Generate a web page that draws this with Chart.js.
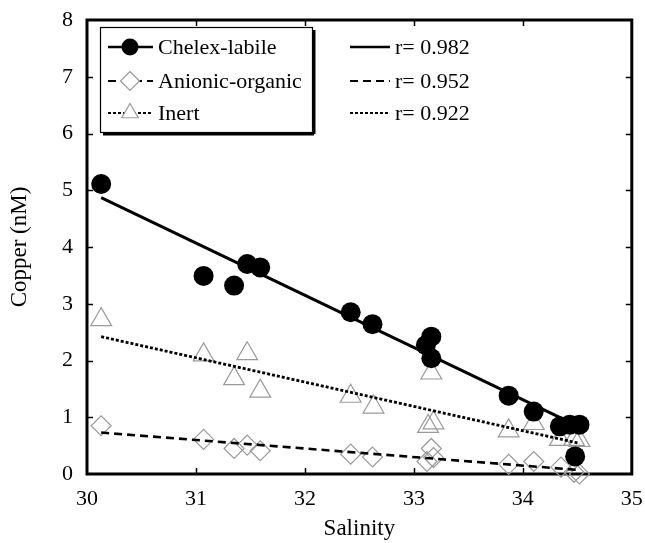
<!DOCTYPE html>
<html>
<head>
<meta charset="utf-8">
<script src="https://cdn.jsdelivr.net/npm/chart.js@4/dist/chart.umd.min.js"></script>
<style>
html,body{margin:0;padding:0;background:#fff;}
#wrap{width:645px;height:543px;}
</style>
</head>
<body>
<div id="wrap"><canvas id="c" width="645" height="543"></canvas></div>
<script>
// ---- data ----
const chelexX = [30.13, 31.07, 31.35, 31.47, 31.59, 32.42, 32.62, 33.11, 33.16, 33.16, 33.87, 34.10, 34.34, 34.43, 34.52, 34.48];
const chelexY = [5.11, 3.49, 3.32, 3.70, 3.64, 2.85, 2.64, 2.27, 2.42, 2.04, 1.38, 1.10, 0.84, 0.87, 0.87, 0.31];
const anionicX = [30.13, 31.07, 31.35, 31.47, 31.59, 32.42, 32.62, 33.16, 33.18, 33.12, 33.87, 34.10, 34.35, 34.47, 34.52];
const anionicY = [0.85, 0.61, 0.45, 0.51, 0.41, 0.35, 0.30, 0.45, 0.29, 0.22, 0.17, 0.22, 0.12, 0.03, 0.00];
const inertX = [30.13, 31.07, 31.47, 31.35, 31.59, 32.42, 32.63, 33.16, 33.13, 33.18, 33.87, 34.10, 34.34, 34.47, 34.52];
const inertY = [2.72, 2.10, 2.12, 1.68, 1.46, 1.37, 1.18, 1.78, 0.84, 0.90, 0.76, 0.89, 0.61, 0.61, 0.59];
const fitX = [30.13, 34.52];
const chelexFitY = [4.87, 0.83];
const anionicFitY = [0.73, 0.07];
const inertFitY = [2.42, 0.54];
const seriesNames = ['Chelex-labile', 'Anionic-organic', 'Inert'];
const rLabels = ['r= 0.982', 'r= 0.952', 'r= 0.922'];
const xTicks = [30, 31, 32, 33, 34, 35];
const yTicks = [0, 1, 2, 3, 4, 5, 6, 7, 8];
const xTitle = 'Salinity';
const yTitle = 'Copper (nM)';

const pts = (xs, ys) => xs.map((x, i) => ({x: x, y: ys[i]}));
const FONT = 'Liberation Serif';
const GREY = '#9a9a9a';
const styles = [
  {dash: [], width: 3},
  {dash: [8, 5], width: 2.6},
  {dash: [3, 2], width: 2.8}
];

function drawMarker(ctx, kind, x, y, r) {
  ctx.save();
  ctx.setLineDash([]);
  if (kind === 0) {
    ctx.fillStyle = '#000';
    ctx.beginPath(); ctx.arc(x, y, r, 0, Math.PI * 2); ctx.fill();
  } else if (kind === 1) {
    ctx.strokeStyle = GREY; ctx.lineWidth = 1.2; ctx.fillStyle = '#fff';
    ctx.beginPath();
    ctx.moveTo(x, y - r); ctx.lineTo(x + r, y); ctx.lineTo(x, y + r); ctx.lineTo(x - r, y); ctx.closePath();
    ctx.fill(); ctx.stroke();
  } else {
    ctx.strokeStyle = GREY; ctx.lineWidth = 1.2; ctx.fillStyle = '#fff';
    ctx.beginPath();
    ctx.moveTo(x, y - r); ctx.lineTo(x + r * 0.87, y + r * 0.5); ctx.lineTo(x - r * 0.87, y + r * 0.5); ctx.closePath();
    ctx.fill(); ctx.stroke();
  }
  ctx.restore();
}

const framePlugin = {
  id: 'frame',
  beforeDatasetsDraw(chart) {
    const {ctx, chartArea: a, scales} = chart;
    ctx.save();
    ctx.strokeStyle = '#000';
    ctx.lineWidth = 1.5;
    const tl = 6;
    xTicks.forEach(v => {
      if (v === xTicks[0] || v === xTicks[xTicks.length - 1]) return;
      const px = Math.round(scales.x.getPixelForValue(v)) + 0.5;
      ctx.beginPath(); ctx.moveTo(px, a.bottom); ctx.lineTo(px, a.bottom - tl); ctx.stroke();
      ctx.beginPath(); ctx.moveTo(px, a.top); ctx.lineTo(px, a.top + tl); ctx.stroke();
    });
    yTicks.forEach(v => {
      if (v === yTicks[0] || v === yTicks[yTicks.length - 1]) return;
      const py = Math.round(scales.y.getPixelForValue(v)) + 0.5;
      ctx.beginPath(); ctx.moveTo(a.left, py); ctx.lineTo(a.left + tl, py); ctx.stroke();
      ctx.beginPath(); ctx.moveTo(a.right, py); ctx.lineTo(a.right - tl, py); ctx.stroke();
    });
    ctx.lineWidth = 3;
    ctx.strokeRect(a.left, a.top, a.right - a.left, a.bottom - a.top);
    ctx.restore();
  },
  afterDraw(chart) {
    const {ctx, chartArea: a} = chart;
    ctx.save();
    // legend box
    const bx = a.left + 13, by = a.top + 7, bw = 212, bh = 105;
    ctx.fillStyle = '#fff';
    ctx.fillRect(bx, by, bw, bh);
    ctx.strokeStyle = '#000';
    ctx.lineWidth = 1.2;
    ctx.strokeRect(bx + 0.5, by + 0.5, bw, bh);
    ctx.fillStyle = '#000';
    ctx.fillRect(bx + 3, by + bh + 1, bw - 1, 2.5);
    ctx.fillRect(bx + bw + 1, by + 3, 2.5, bh - 1);
    const rows = [by + 20, by + 54, by + 86];
    ctx.font = '22px "' + FONT + '"';
    ctx.textBaseline = 'middle';
    ctx.textAlign = 'left';
    for (let i = 0; i < 3; i++) {
      const y = rows[i];
      ctx.strokeStyle = '#000';
      ctx.lineWidth = styles[i].width - 0.6;
      ctx.setLineDash(styles[i].dash);
      ctx.beginPath(); ctx.moveTo(bx + 8, y); ctx.lineTo(bx + 53, y); ctx.stroke();
      drawMarker(ctx, i, bx + 30, y, i === 0 ? 8.5 : 9.5);
      ctx.setLineDash([]);
      ctx.fillStyle = '#000';
      ctx.fillText(seriesNames[i], bx + 58, y + 1);
      // right column
      ctx.setLineDash(styles[i].dash);
      ctx.lineWidth = styles[i].width - 0.6;
      ctx.beginPath(); ctx.moveTo(bx + 250, y); ctx.lineTo(bx + 290, y); ctx.stroke();
      ctx.setLineDash([]);
      ctx.fillText(rLabels[i], bx + 295, y + 1);
    }
    ctx.restore();
  }
};

const lineDs = (ys, i) => ({
  type: 'scatter',
  data: pts(fitX, ys),
  showLine: true,
  borderColor: '#000',
  borderWidth: styles[i].width,
  borderDash: styles[i].dash,
  pointRadius: 0,
  fill: false,
  order: 0,
  clip: false
});

new Chart(document.getElementById('c'), {
  type: 'scatter',
  data: {
    datasets: [
      {data: pts(anionicX, anionicY), pointStyle: 'rectRot', pointRadius: 10, backgroundColor: 'rgba(255,255,255,0)', borderColor: GREY, borderWidth: 1.2, order: 3, clip: false},
      {data: pts(inertX, inertY), pointStyle: 'triangle', pointRadius: 12, backgroundColor: 'rgba(255,255,255,0)', borderColor: GREY, borderWidth: 1.2, order: 2, clip: false},
      lineDs(anionicFitY, 1),
      lineDs(inertFitY, 2),
      lineDs(chelexFitY, 0),
      {data: pts(chelexX, chelexY), pointStyle: 'circle', pointRadius: 10, backgroundColor: '#000', borderColor: '#000', borderWidth: 0, order: -1, clip: false}
    ]
  },
  options: {
    responsive: false,
    animation: false,
    devicePixelRatio: 1,
    layout: {padding: {left: 6, top: 0, right: 0, bottom: 0}},
    plugins: {legend: {display: false}, tooltip: {enabled: false}},
    elements: {point: {hoverRadius: 10}},
    scales: {
      x: {
        type: 'linear', min: 30, max: 35,
        afterBuildTicks: s => { s.ticks = xTicks.map(v => ({value: v})); },
        afterFit: s => { s.height = 69; s.paddingLeft = 0; s.paddingRight = 13; },
        grid: {display: false, drawTicks: false},
        border: {display: false},
        ticks: {color: '#000', padding: 12, font: {family: FONT, size: 22}},
        title: {display: true, text: xTitle, color: '#000', font: {family: FONT, size: 23}, padding: {top: 0, bottom: 0}}
      },
      y: {
        type: 'linear', min: 0, max: 8,
        afterBuildTicks: s => { s.ticks = yTicks.map(v => ({value: v})); },
        afterFit: s => { s.width = 81; s.paddingTop = 20; s.paddingBottom = 0; },
        grid: {display: false, drawTicks: false},
        border: {display: false},
        ticks: {color: '#000', padding: 14, font: {family: FONT, size: 22}},
        title: {display: true, text: yTitle, color: '#000', font: {family: FONT, size: 23}, padding: {top: 0, bottom: 0}}
      }
    }
  },
  plugins: [framePlugin]
});
</script>
</body>
</html>
